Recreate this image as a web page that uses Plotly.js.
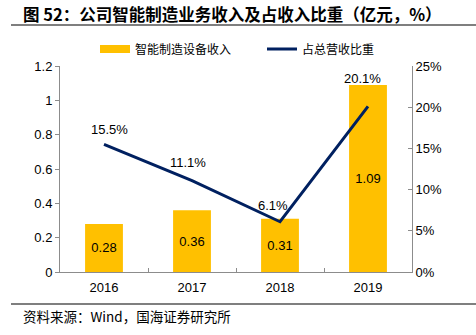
<!DOCTYPE html>
<html>
<head>
<meta charset="utf-8">
<script src="https://cdn.plot.ly/plotly-3.0.1.min.js"></script>
<style>html,body{margin:0;padding:0;background:#fff;}#chart{width:476px;height:335px;}</style>
</head>
<body>
<div id="chart"></div>
<script>
const years = ['2016', '2017', '2018', '2019'];
const revenue = [0.28, 0.36, 0.31, 1.09];          // 智能制造设备收入（亿元）
const share = [0.155, 0.111, 0.061, 0.201];        // 占总营收比重
const revenueLabels = ['0.28', '0.36', '0.31', '1.09'];
const shareLabels = ['15.5%', '11.1%', '6.1%', '20.1%'];
const seriesNames = ['智能制造设备收入', '占总营收比重'];
const titleText = '图 52：公司智能制造业务收入及占收入比重（亿元，%）';
const sourceText = '资料来源：Wind，国海证券研究所';

// label placement offsets (pixels) for the share labels
const shareLabelDX = [5, -4, -7, -6];
const shareLabelDY = [15, 18, 16, 28];

const W = 476, H = 335;
const M = {l: 60, r: 64, t: 66, b: 63};
const pw = W - M.l - M.r, ph = H - M.t - M.b;
const px = x => (x - M.l) / pw;
const py = y => (H - M.b - y) / ph;

const gold = '#FFC000';
const navy = '#002060';
const axisGrey = '#8c8c8c';
const baseFont = {family: 'Liberation Sans, Arial, sans-serif', size: 13, color: '#000'};
const cjk = 'Noto Sans CJK SC, sans-serif';

const traces = [
  {
    type: 'bar', x: years, y: revenue, name: seriesNames[0],
    marker: {color: gold}, text: revenueLabels, textposition: 'inside',
    insidetextanchor: 'middle', textfont: {family: baseFont.family, size: 13, color: '#000'},
    showlegend: false, hoverinfo: 'skip'
  },
  {
    type: 'scatter', mode: 'lines', x: years, y: share, yaxis: 'y2',
    name: seriesNames[1], line: {color: navy, width: 3},
    showlegend: false, hoverinfo: 'skip'
  },
  {
    type: 'scatter', mode: 'lines', x: [years[0]], y: [null], name: seriesNames[0],
    line: {color: gold, width: 8}, showlegend: true, legend: 'legend', hoverinfo: 'skip'
  },
  {
    type: 'scatter', mode: 'lines', x: [years[0]], y: [null], yaxis: 'y2', name: seriesNames[1],
    line: {color: navy, width: 3}, showlegend: true, legend: 'legend2', hoverinfo: 'skip'
  }
];

const legendCommon = {
  orientation: 'h', xanchor: 'left', yanchor: 'middle',
  font: {family: cjk, size: 12, color: '#000'}, itemwidth: 30, bgcolor: 'rgba(0,0,0,0)'
};

const shareAnnotations = years.map((yr, i) => ({
  xref: 'x', yref: 'y2', x: i, y: share[i], text: shareLabels[i], showarrow: false,
  xanchor: 'center', yanchor: 'middle', xshift: shareLabelDX[i], yshift: shareLabelDY[i],
  font: {family: baseFont.family, size: 13, color: '#000'}
}));

const layout = {
  width: W, height: H,
  margin: M,
  paper_bgcolor: '#fff', plot_bgcolor: '#fff',
  font: baseFont,
  bargap: 0.57,
  showlegend: true,
  legend: Object.assign({x: px(95), y: py(49)}, legendCommon),
  legend2: Object.assign({x: px(262), y: py(49)}, legendCommon),
  xaxis: {
    type: 'category', categoryorder: 'array', categoryarray: years,
    range: [-0.5, years.length - 0.5],
    showline: true, linecolor: axisGrey, linewidth: 1,
    ticks: 'inside', tickson: 'boundaries', ticklen: 4, tickcolor: axisGrey,
    ticklabelstandoff: 3,
    showgrid: false, zeroline: false, tickfont: {size: 13, color: '#000'}, fixedrange: true
  },
  yaxis: {
    range: [0, 1.2], dtick: 0.2, showline: true, linecolor: axisGrey,
    ticks: 'outside', ticklen: 4, tickcolor: axisGrey, showgrid: false, zeroline: false,
    tickfont: {size: 13, color: '#000'}, fixedrange: true
  },
  yaxis2: {
    overlaying: 'y', side: 'right', range: [0, 0.25], dtick: 0.05, tickformat: '.0%',
    showline: true, linecolor: axisGrey, ticks: 'inside', ticklen: 4, tickcolor: axisGrey,
    showgrid: false, zeroline: false, tickfont: {size: 13, color: '#000'}, fixedrange: true
  },
  annotations: shareAnnotations.concat([
    {xref: 'paper', yref: 'paper', x: px(21), y: py(14), xanchor: 'left', yanchor: 'middle',
     text: '<b>' + titleText + '</b>', showarrow: false,
     font: {family: cjk, size: 16.5, color: '#000'}},
    {xref: 'paper', yref: 'paper', x: px(21), y: py(316), xanchor: 'left', yanchor: 'middle',
     text: sourceText, showarrow: false,
     font: {family: cjk, size: 13.5, color: '#000'}}
  ]),
  shapes: [
    {type: 'line', xref: 'paper', yref: 'paper', x0: px(11), x1: px(476), y0: py(25), y1: py(25),
     line: {color: '#7f7f7f', width: 2}},
    {type: 'line', xref: 'paper', yref: 'paper', x0: px(11), x1: px(476), y0: py(304), y1: py(304),
     line: {color: '#7f7f7f', width: 2}}
  ]
};

Plotly.newPlot('chart', traces, layout, {displayModeBar: false, staticPlot: true});
</script>
</body>
</html>
